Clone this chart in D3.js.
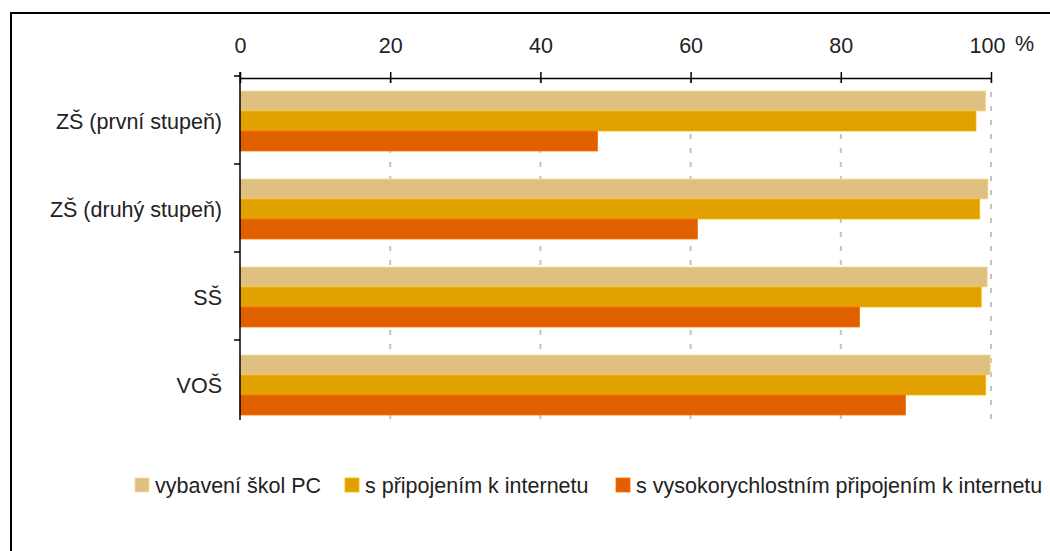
<!DOCTYPE html>
<html lang="cs">
<head>
<meta charset="UTF-8">
<title>vybavení škol</title>
<script src="https://d3js.org/d3.v7.min.js"></script>
<style>
  body { margin: 0; background: #fff; }
  text { font-family: "Liberation Sans", Arial, sans-serif; fill: #222; }
</style>
</head>
<body>
<script>
// data
var categories = ["ZŠ (první stupeň)", "ZŠ (druhý stupeň)", "SŠ", "VOŠ"];
var seriesNames = ["vybavení škol PC", "s připojením k internetu", "s vysokorychlostním připojením k internetu"];
var seriesColors = ["#dfc083", "#e0a000", "#e06000"];
var pcValues = [99.3, 99.6, 99.5, 99.9];
var internetValues = [98.0, 98.5, 98.7, 99.3];
var highSpeedValues = [47.6, 60.9, 82.5, 88.6];
var xTicks = [0, 20, 40, 60, 80, 100];

var series = [pcValues, internetValues, highSpeedValues];

var W = 1050, H = 551;
var fontSize = "21.5px";
var svg = d3.select("body").append("svg")
    .attr("width", W)
    .attr("height", H);

// frame (only top and left edge fall inside the picture)
svg.append("rect")
    .attr("x", 11).attr("y", 13)
    .attr("width", W + 20).attr("height", H + 20)
    .attr("fill", "none")
    .attr("stroke", "#000")
    .attr("stroke-width", 2);

var x = d3.scaleLinear().domain([0, 100]).range([240, 991]);
var y = d3.scaleBand().domain(categories).range([77, 429]).paddingInner(0.318).paddingOuter(0.159);
var yIn = d3.scaleBand().domain(d3.range(series.length)).range([0, y.bandwidth()]);
var axisBottom = 420;

// dashed grid
svg.append("g").selectAll("line")
    .data(xTicks.filter(function(d) { return d > 0; }))
    .enter().append("line")
    .attr("x1", function(d) { return x(d); })
    .attr("x2", function(d) { return x(d); })
    .attr("y1", 78)
    .attr("y2", axisBottom)
    .attr("stroke", "#c2c2c2")
    .attr("stroke-width", 2)
    .attr("stroke-dasharray", "5,9");

// bars
var groups = svg.append("g").selectAll("g")
    .data(categories)
    .enter().append("g")
    .attr("transform", function(d) { return "translate(0," + y(d) + ")"; });

groups.selectAll("rect")
    .data(function(d, i) { return series.map(function(s, j) { return { s: j, v: s[i] }; }); })
    .enter().append("rect")
    .attr("x", x(0))
    .attr("y", function(d) { return yIn(d.s); })
    .attr("width", function(d) { return x(d.v) - x(0); })
    .attr("height", yIn.bandwidth())
    .attr("fill", function(d) { return seriesColors[d.s]; })
    .attr("stroke", function(d) { return d3.color(seriesColors[d.s]).brighter(0.4); })
    .attr("stroke-width", 0.8);

// top axis
var xAxis = d3.axisTop(x).tickValues(xTicks).tickSizeInner(6).tickSizeOuter(0).tickPadding(19);
var gx = svg.append("g")
    .attr("transform", "translate(0,78)")
    .call(xAxis);
gx.select(".domain").attr("stroke", "#000").attr("stroke-width", 1.5);
gx.selectAll(".tick line").attr("y2", 5).attr("y1", -6).attr("stroke", "#000").attr("stroke-width", 1.5);
gx.selectAll(".tick text")
    .style("font-size", fontSize)
    .style("font-family", "'Liberation Sans', Arial, sans-serif")
    .attr("fill", "#222");
gx.selectAll(".tick").filter(function(d) { return d === 100; }).select("text").attr("dx", -4);

svg.append("text")
    .attr("x", 1015)
    .attr("y", 51)
    .style("font-size", fontSize)
    .text("%");

// left axis: line plus ticks between categories
var gy = svg.append("g");
gy.append("line")
    .attr("x1", x(0)).attr("x2", x(0))
    .attr("y1", 72).attr("y2", axisBottom)
    .attr("stroke", "#000").attr("stroke-width", 1.5);
gy.selectAll("line.tk")
    .data(categories)
    .enter().append("line")
    .attr("class", "tk")
    .attr("x1", x(0) - 6).attr("x2", x(0))
    .attr("y1", function(d) { return y(d) - y.step() * y.paddingOuter() - 1; })
    .attr("y2", function(d) { return y(d) - y.step() * y.paddingOuter() - 1; })
    .attr("stroke", "#000").attr("stroke-width", 1.5);

gy.selectAll("text")
    .data(categories)
    .enter().append("text")
    .attr("x", 222)
    .attr("y", function(d) { return y(d) + y.bandwidth() / 2; })
    .attr("dy", "0.36em")
    .attr("text-anchor", "end")
    .style("font-size", fontSize)
    .text(function(d) { return d; });

// legend
var legendX = [135, 345, 616];
var legend = svg.append("g").selectAll("g")
    .data(seriesNames)
    .enter().append("g")
    .attr("transform", function(d, i) { return "translate(" + legendX[i] + ",478)"; });
legend.append("rect")
    .attr("width", 14).attr("height", 14)
    .attr("fill", function(d, i) { return seriesColors[i]; })
    .attr("stroke", function(d, i) { return d3.color(seriesColors[i]).brighter(0.4); })
    .attr("stroke-width", 0.8);
legend.append("text")
    .attr("x", 20)
    .attr("y", 7)
    .attr("dy", "0.36em")
    .style("font-size", fontSize)
    .text(function(d) { return d; });
</script>
</body>
</html>
